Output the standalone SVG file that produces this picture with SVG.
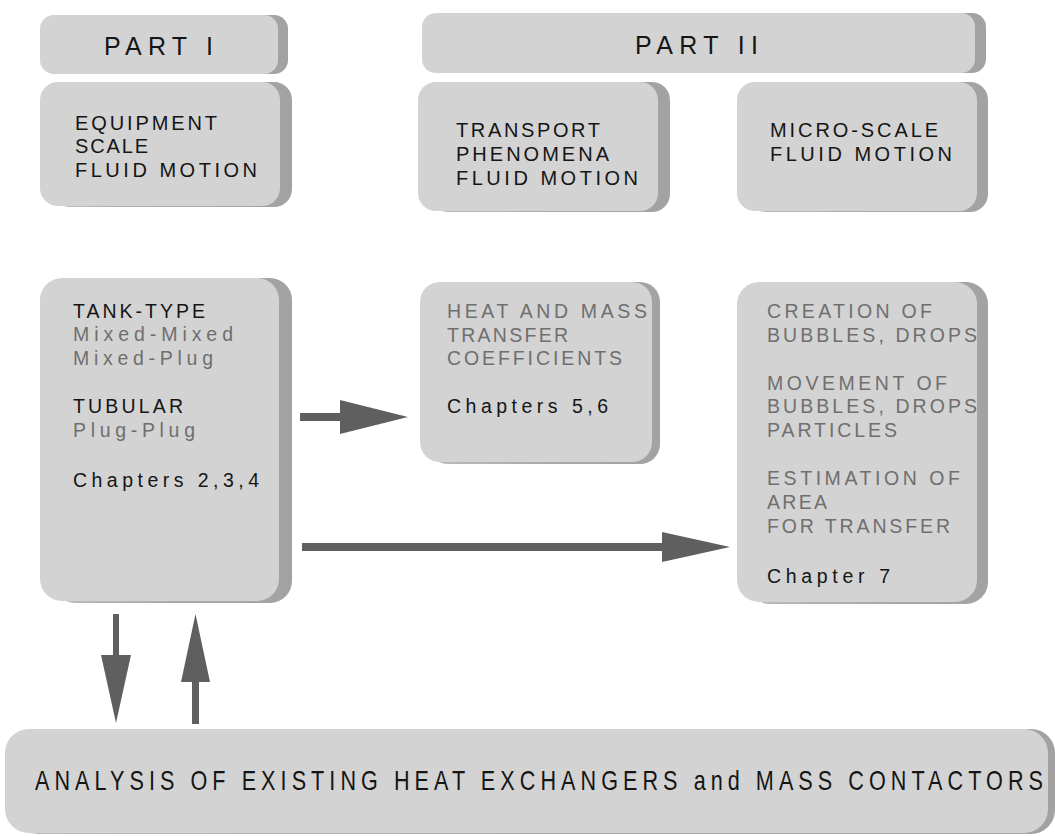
<svg xmlns="http://www.w3.org/2000/svg" width="1055" height="836" viewBox="0 0 1055 836">
<defs>
<linearGradient id="side" x1="0" y1="0" x2="1" y2="0">
<stop offset="0" stop-color="#bcbcbc"/>
<stop offset="0.5" stop-color="#aaaaaa"/>
<stop offset="1" stop-color="#a2a2a2"/>
</linearGradient>
<style>
.face{fill:#d3d3d3}
.side{fill:url(#side)}
.t{font-family:"Liberation Sans","Open Sans","DejaVu Sans",sans-serif;fill:#151515}
.g{fill:#6f6f6f}
.big{font-size:25px}
.mid{font-size:20px}
.sm{font-size:19.5px}
.arr{fill:#5f5f5f}
</style>
</defs>
<rect width="1055" height="836" fill="#ffffff"/>

<g id="part1">
<rect class="side" x="50" y="15" width="238" height="59" rx="14"/>
<rect class="face" x="40" y="15" width="238" height="59" rx="14"/>
<text class="t big" x="104" y="55" textLength="109" lengthAdjust="spacing">PART I</text>
</g>

<g id="part2">
<rect class="side" x="433" y="13" width="553" height="60" rx="14"/>
<rect class="face" x="422" y="13" width="553" height="60" rx="14"/>
<text class="t big" x="635" y="54" textLength="123" lengthAdjust="spacing">PART II</text>
</g>

<g id="equipment">
<rect class="side" x="52" y="82" width="240" height="125" rx="18"/>
<rect class="face" x="40" y="82" width="240" height="124" rx="18"/>
<text class="t mid" x="75" y="130" textLength="142" lengthAdjust="spacing">EQUIPMENT</text>
<text class="t mid" x="75" y="153" textLength="73" lengthAdjust="spacing">SCALE</text>
<text class="t mid" x="75" y="177" textLength="182" lengthAdjust="spacing">FLUID MOTION</text>
</g>

<g id="transport">
<rect class="side" x="430" y="82" width="240" height="130" rx="18"/>
<rect class="face" x="418" y="82" width="240" height="129" rx="18"/>
<text class="t mid" x="456" y="137" textLength="144" lengthAdjust="spacing">TRANSPORT</text>
<text class="t mid" x="456" y="161" textLength="153" lengthAdjust="spacing">PHENOMENA</text>
<text class="t mid" x="456" y="185" textLength="182" lengthAdjust="spacing">FLUID MOTION</text>
</g>

<g id="microscale">
<rect class="side" x="748" y="82" width="240" height="130" rx="18"/>
<rect class="face" x="737" y="82" width="240" height="129" rx="18"/>
<text class="t mid" x="770" y="137" textLength="168" lengthAdjust="spacing">MICRO-SCALE</text>
<text class="t mid" x="770" y="161" textLength="182" lengthAdjust="spacing">FLUID MOTION</text>
</g>

<g id="tank">
<rect class="side" x="53" y="278" width="239" height="325" rx="22"/>
<rect class="face" x="40" y="278" width="239" height="323" rx="22"/>
<text class="t sm" x="73" y="318" textLength="132" lengthAdjust="spacing">TANK-TYPE</text>
<text class="t sm g" x="73" y="341" textLength="160" lengthAdjust="spacing">Mixed-Mixed</text>
<text class="t sm g" x="73" y="365" textLength="140" lengthAdjust="spacing">Mixed-Plug</text>
<text class="t sm" x="73" y="413" textLength="110" lengthAdjust="spacing">TUBULAR</text>
<text class="t sm g" x="73" y="437" textLength="122" lengthAdjust="spacing">Plug-Plug</text>
<text class="t sm" x="73" y="487" textLength="186" lengthAdjust="spacing">Chapters 2,3,4</text>
</g>

<g id="heatmass">
<rect class="side" x="428" y="282" width="232" height="182" rx="20"/>
<rect class="face" x="420" y="282" width="232" height="180" rx="20"/>
<text class="t sm g" x="447" y="318" textLength="200" lengthAdjust="spacing">HEAT AND MASS</text>
<text class="t sm g" x="447" y="342" textLength="121" lengthAdjust="spacing">TRANSFER</text>
<text class="t sm g" x="447" y="365" textLength="175" lengthAdjust="spacing">COEFFICIENTS</text>
<text class="t sm" x="447" y="413" textLength="161" lengthAdjust="spacing">Chapters 5,6</text>
</g>

<g id="creation">
<rect class="side" x="748" y="282" width="240" height="322" rx="22"/>
<rect class="face" x="737" y="282" width="240" height="320" rx="22"/>
<text class="t sm g" x="767" y="318" textLength="165" lengthAdjust="spacing">CREATION OF</text>
<text class="t sm g" x="767" y="342" textLength="210" lengthAdjust="spacing">BUBBLES, DROPS</text>
<text class="t sm g" x="767" y="390" textLength="180" lengthAdjust="spacing">MOVEMENT OF</text>
<text class="t sm g" x="767" y="413" textLength="210" lengthAdjust="spacing">BUBBLES, DROPS</text>
<text class="t sm g" x="767" y="437" textLength="130" lengthAdjust="spacing">PARTICLES</text>
<text class="t sm g" x="767" y="485" textLength="193" lengthAdjust="spacing">ESTIMATION OF</text>
<text class="t sm g" x="767" y="509" textLength="60" lengthAdjust="spacing">AREA</text>
<text class="t sm g" x="767" y="533" textLength="183" lengthAdjust="spacing">FOR TRANSFER</text>
<text class="t sm" x="767" y="583" textLength="123" lengthAdjust="spacing">Chapter 7</text>
</g>

<g id="analysis">
<rect class="side" x="14" y="729" width="1041" height="105" rx="24"/>
<rect class="face" x="5" y="729" width="1043" height="104" rx="24"/>
<g transform="translate(35,790) scale(0.8,1)">
<text class="t" font-size="27" x="0" y="0" textLength="1260" lengthAdjust="spacing">ANALYSIS OF EXISTING HEAT EXCHANGERS and MASS CONTACTORS</text>
</g>
</g>

<g id="connectors">
<path class="arr" d="M300,413 H340 V400 L408,417 L340,434 V421 H300 Z"/>
<path class="arr" d="M302,543 H662 V532 L730,547 L662,562 V551 H302 Z"/>
<path class="arr" d="M113,614 H119 V655 H131 L116,723 L101,655 H113 Z"/>
<path class="arr" d="M192,724 H199 V682 H210 L195.5,614 L181,682 H192 Z"/>
</g>
</svg>
